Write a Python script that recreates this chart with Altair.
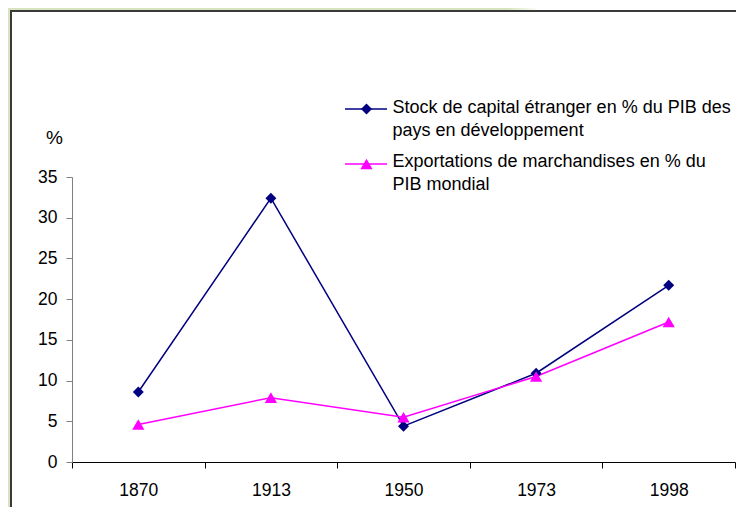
import altair as alt
import pandas as pd

years = ["1870", "1913", "1950", "1973", "1998"]
capital_stock = [8.6, 32.4, 4.4, 10.9, 21.7]
exports = [4.6, 7.9, 5.5, 10.5, 17.2]
series_names = [
    "Stock de capital étranger en % du PIB des pays en développement",
    "Exportations de marchandises en % du PIB mondial",
]
legend_lines = [
    ["Stock de capital étranger en % du PIB des", "pays en développement"],
    ["Exportations de marchandises en % du", "PIB mondial"],
]
colors = ["#000080", "#FF00FF"]
shapes = ["diamond", "triangle-up"]
y_ticks = [0, 5, 10, 15, 20, 25, 30, 35]

df = pd.DataFrame({
    "year": years * 2,
    "value": capital_stock + exports,
    "series": [series_names[0]] * len(years) + [series_names[1]] * len(years),
})
one = pd.DataFrame({"a": [0]})

W, H = 663, 285
FONT = "Liberation Sans"
GREEN = "#d7e4bd"

x = alt.X("year:N", sort=years,
          scale=alt.Scale(type="band", paddingInner=0, paddingOuter=0),
          axis=alt.Axis(title=None, labelAngle=0, tickBand="extent", zindex=1,
                        domainColor="black", tickColor="black", tickSize=6,
                        labelFontSize=17.5, labelPadding=13, labelColor="black",
                        labelBaseline="top", labelFont=FONT))
y = alt.Y("value:Q", scale=alt.Scale(domain=[0, 35], nice=False),
          axis=alt.Axis(values=y_ticks, title="%", titleAngle=0, titleX=-18, titleY=-40,
                        titleFontSize=19, titleFontWeight="normal", titleAlign="center",
                        titleBaseline="middle", titleColor="black", titleFont=FONT,
                        grid=False, domainColor="#808080", tickColor="#808080", zindex=1,
                        tickSize=6, labelFontSize=17.5, labelPadding=9,
                        labelColor="black", labelFont=FONT))
color = alt.Color("series:N", scale=alt.Scale(domain=series_names, range=colors), legend=None)
shape = alt.Shape("series:N", scale=alt.Scale(domain=series_names, range=shapes), legend=None)
size = alt.Size("series:N", scale=alt.Scale(domain=series_names, range=[120, 150]), legend=None)

glare = alt.Chart(one).mark_rect(
    fill={"gradient": "linear", "x1": 0, "y1": 0, "x2": 1, "y2": 0,
          "stops": [{"offset": 0, "color": GREEN}, {"offset": 0.12, "color": "#ffffff"},
                    {"offset": 1, "color": "#ffffff"}]},
    strokeWidth=0).encode(
    x=alt.value(436), x2=alt.value(W + 30), y=alt.value(-172), y2=alt.value(-166))

frame = alt.Chart(one).mark_rect(fill="white", stroke="#3a3a3a", strokeWidth=2).encode(
    x=alt.value(-61), x2=alt.value(W + 30), y=alt.value(-166), y2=alt.value(H + 80))

lines = alt.Chart(df).mark_line(strokeWidth=1.5).encode(x=x, y=y, color=color)
points = alt.Chart(df).mark_point(filled=True, opacity=1).encode(
    x=x, y=y, color=color, shape=shape, size=size)

legend_layers = []
sym_y = [-68, -13]
txt_y = [-64, -10]
sym_size = [120, 150]
for i in range(2):
    legend_layers.append(alt.Chart(one).mark_rule(color=colors[i], strokeWidth=1.5).encode(
        x=alt.value(273), x2=alt.value(315), y=alt.value(sym_y[i])))
    legend_layers.append(alt.Chart(one).mark_point(shape=shapes[i], filled=True, size=sym_size[i],
                                                   color=colors[i], opacity=1).encode(
        x=alt.value(294.5), y=alt.value(sym_y[i])))
    legend_layers.append(alt.Chart(one).mark_text(align="left", baseline="alphabetic",
                                                  fontSize=18, lineHeight=23, font=FONT,
                                                  color="black").encode(
        x=alt.value(320.5), y=alt.value(txt_y[i]), text=alt.value(legend_lines[i])))

chart = alt.layer(glare, frame, lines, points, *legend_layers).properties(
    width=W, height=H,
    padding={"left": 64, "top": 169, "right": 1, "bottom": 45},
    autosize=alt.AutoSizeParams(type="none"),
    background=GREEN,
).configure(font=FONT).configure_view(stroke=None)

chart.save("out.html", embed_options={"renderer": "svg", "actions": False})
